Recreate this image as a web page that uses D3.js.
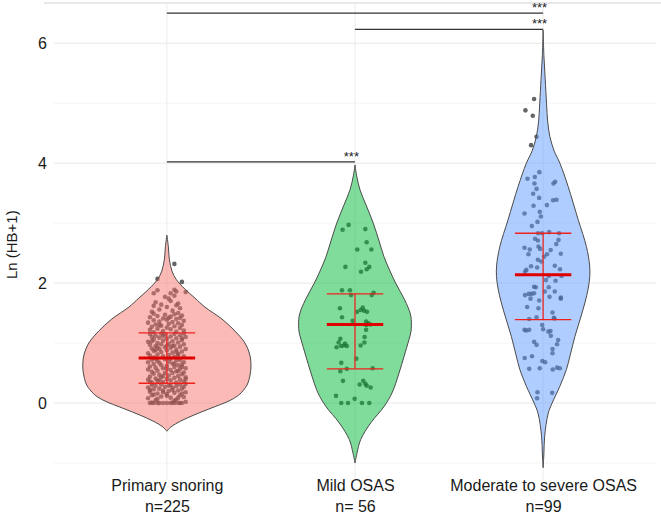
<!DOCTYPE html>
<html>
<head>
<meta charset="utf-8">
<script src="https://cdn.jsdelivr.net/npm/d3@7/dist/d3.min.js"></script>
<style>
  body { margin: 0; background: #fff; }
  svg { font-family: "Liberation Sans", Arial, sans-serif; }
</style>
</head>
<body>
<svg id="chart" width="661" height="516"></svg>
<script>
// groups
var groups = ["Primary snoring", "Mild OSAS", "Moderate to severe OSAS"];
var groupN = ["n=225", "n= 56", "n=99"];
var fills = ["#F8766D", "#00BA38", "#619CFF"];

// violin outlines: [value, half width in category units]
var violinPrimary = [[2.80,0],[2.6,0.008],[2.4,0.013],[2.2,0.027],[2.06,0.05],[1.9,0.096],[1.75,0.149],[1.6,0.202],[1.4,0.293],[1.2,0.362],[1.0,0.415],[0.8,0.441],[0.6,0.447],[0.45,0.441],[0.3,0.426],[0.15,0.388],[0.05,0.34],[-0.1,0.223],[-0.2,0.144],[-0.3,0.074],[-0.4,0.021],[-0.47,0]];
var violinMild = [[3.97,0],[3.8,0.008],[3.55,0.027],[3.3,0.059],[3.0,0.097],[2.7,0.128],[2.44,0.154],[2.2,0.186],[2.0,0.216],[1.72,0.264],[1.5,0.293],[1.39,0.299],[1.2,0.298],[1.06,0.287],[0.78,0.261],[0.5,0.234],[0.17,0.197],[-0.06,0.154],[-0.33,0.084],[-0.61,0.03],[-0.83,0.011],[-1.0,0]];
var violinSevere = [[6.22,0],[5.8,0.004],[5.4,0.011],[5.0,0.018],[4.7,0.024],[4.44,0.036],[4.2,0.059],[4.0,0.089],[3.61,0.133],[3.06,0.186],[2.61,0.23],[2.3,0.247],[2.11,0.248],[1.9,0.239],[1.67,0.222],[1.4,0.197],[1.11,0.169],[0.8,0.144],[0.56,0.124],[0.28,0.089],[0.0,0.048],[-0.17,0.027],[-0.56,0.008],[-0.85,0.004],[-1.08,0]];

// quartiles / median: [q1, median, q3]
var statsPrimary = [0.33, 0.75, 1.17];
var statsMild = [0.57, 1.31, 1.82];
var statsSevere = [1.39, 2.14, 2.83];

// jittered observations: [jitter offset in category units, value]
var pointsPrimary = [
[-0.09,0],[-0.07,0],[-0.05,0],[-0.02,0],[0.0,0],[0.02,0],[0.04,0],[0.06,0],[0.08,0],[-0.08,0.01],[0.03,0.01],[-0.04,0.0],[0.07,0.0],[0.1,0.02],
[-0.06,0.05],[0.05,0.06],[-0.1,0.08],[0.02,0.09],[0.09,0.1],[-0.03,0.11],[-0.08,0.13],[0.07,0.13],[0.0,0.15],[-0.05,0.16],[0.04,0.17],[0.1,0.18],[-0.09,0.19],[0.01,0.2],[-0.02,0.21],[0.06,0.21],[-0.07,0.23],[0.08,0.24],[-0.04,0.24],[0.03,0.25],[-0.1,0.26],[0.09,0.27],[-0.01,0.27],[0.05,0.28],[-0.06,0.29],[0.02,0.3],[-0.08,0.3],[0.07,0.31],[-0.03,0.31],[0.1,0.32],[0.0,0.12],[-0.05,0.07],[0.04,0.04],[0.08,0.16],[-0.09,0.22],[-0.02,0.18],[0.06,0.09],[0.01,0.29],[-0.07,0.14],[0.03,0.22],
[-0.08,0.34],[0.05,0.34],[-0.02,0.35],[0.09,0.36],[-0.05,0.37],[0.02,0.38],[-0.1,0.39],[0.07,0.39],[0.0,0.4],[-0.06,0.41],[0.04,0.42],[-0.03,0.43],[0.1,0.43],[-0.09,0.44],[0.06,0.45],[0.01,0.46],[-0.04,0.47],[0.08,0.48],[-0.07,0.49],[0.03,0.5],[-0.01,0.5],[0.09,0.51],[-0.08,0.52],[0.05,0.53],[-0.05,0.54],[0.02,0.55],[-0.1,0.56],[0.07,0.57],[-0.02,0.58],[0.1,0.58],[-0.06,0.59],[0.04,0.6],[-0.09,0.61],[0.0,0.62],[0.06,0.63],[-0.03,0.63],[0.08,0.64],[-0.07,0.65],[0.03,0.66],[-0.04,0.67],[0.09,0.68],[-0.1,0.68],[0.01,0.69],[-0.05,0.7],[0.05,0.71],[-0.08,0.72],[0.07,0.72],[-0.01,0.73],[0.02,0.74],[-0.06,0.74],[0.1,0.4],[-0.02,0.45],[0.06,0.53],[-0.09,0.36],[0.04,0.65],[0.0,0.57],[-0.04,0.38],[0.08,0.6],
[-0.07,0.76],[0.04,0.77],[-0.02,0.78],[0.09,0.78],[-0.09,0.79],[0.01,0.8],[-0.05,0.81],[0.06,0.82],[-0.1,0.83],[0.03,0.84],[-0.03,0.85],[0.08,0.86],[-0.07,0.87],[0.0,0.88],[0.05,0.89],[-0.04,0.9],[0.1,0.9],[-0.08,0.91],[0.02,0.92],[-0.01,0.93],[0.07,0.94],[-0.06,0.95],[0.04,0.96],[-0.09,0.97],[0.09,0.98],[-0.03,0.98],[0.01,0.99],[-0.05,1.0],[0.06,1.01],[-0.1,1.02],[0.03,1.03],[-0.02,1.04],[0.08,1.05],[-0.07,1.06],[0.0,1.07],[0.05,1.08],[-0.04,1.09],[0.1,1.1],[-0.08,1.1],[0.02,1.11],[-0.06,1.12],[0.07,1.13],[-0.01,1.14],[0.04,1.15],[-0.09,1.15],[0.09,1.16],[-0.03,1.16],[0.06,0.8],[-0.06,0.88],[0.03,0.95],[-0.08,1.03],[0.08,1.08],[0.0,0.96],[-0.02,1.12],[0.05,0.85],[-0.05,0.93],
[-0.07,1.18],[0.05,1.19],[-0.02,1.2],[0.09,1.21],[-0.09,1.22],[0.02,1.23],[-0.05,1.24],[0.07,1.25],[0.0,1.26],[-0.08,1.27],[0.04,1.28],[-0.03,1.29],[0.08,1.3],[-0.06,1.31],[0.01,1.32],[0.06,1.33],[-0.1,1.34],[0.03,1.35],[-0.04,1.36],[0.09,1.37],[-0.07,1.38],[0.0,1.39],[0.05,1.4],[-0.02,1.41],[0.07,1.42],[-0.09,1.43],[0.02,1.44],[-0.05,1.45],[0.08,1.46],[-0.01,1.47],[0.04,1.48],[-0.07,1.49],[0.06,1.5],[-0.04,1.3],[0.01,1.42],
[-0.08,1.52],[0.03,1.54],[-0.04,1.56],[0.07,1.58],[0.0,1.6],[-0.07,1.62],[0.05,1.63],[-0.03,1.64],[0.06,1.66],[-0.06,1.68],[0.02,1.7],[0.01,1.74],[-0.01,1.77],[0.04,1.79],[-0.07,1.83],[0.02,1.83],[0.05,1.86],[0.1,1.85],[-0.05,1.88],[0.04,1.89],[-0.05,2.07],[0.08,2.02],[0.04,2.32]
];
var pointsMild = [
[-0.066,2.89],[-0.034,2.97],[0.055,2.90],[0.062,2.68],[0.012,2.56],[0.087,2.56],[-0.051,2.27],[0.055,2.34],[0.062,2.23],[0.076,2.27],[0.032,2.19],
[-0.069,1.88],[-0.027,1.88],[-0.021,1.80],[0.099,1.84],[0.089,1.80],[-0.080,1.58],[-0.069,1.43],[0.011,1.52],[0.041,1.59],[0.048,1.54],[0.064,1.52],
[-0.012,1.37],[0.059,1.36],[0.071,1.33],[0.082,1.31],[0.059,1.22],[-0.078,1.07],[0.051,1.10],[-0.087,1.01],[-0.098,0.93],[-0.074,0.95],[-0.053,0.99],
[-0.043,0.95],[0.030,0.96],[0.050,1.01],[0.007,0.74],[-0.073,0.67],[-0.044,0.57],[-0.078,0.53],[0.094,0.58],[-0.064,0.37],[0.025,0.31],[0.044,0.37],
[0.055,0.32],[0.062,0.29],[0.083,0.26],[-0.101,0.12],[-0.073,0.00],[-0.037,0.00],[-0.002,0.07],[0.037,0.00],[0.076,0.00],[0.060,1.30],[-0.060,0.96],[0.030,1.55]
];
var pointsSevere = [
[-0.048,5.07],[-0.094,4.88],[-0.055,4.79],[-0.035,4.44],[-0.064,4.30],
[-0.083,3.74],[-0.044,3.77],[-0.020,3.85],[-0.046,3.66],[-0.035,3.57],[-0.053,3.49],[-0.021,3.42],[0.055,3.66],[0.064,3.69],[0.053,3.38],[0.071,3.39],
[-0.051,3.29],[-0.018,3.19],[-0.012,3.11],[-0.099,3.16],[-0.030,3.02],[-0.027,2.83],[-0.005,2.83],[0.032,2.85],[0.085,2.83],[-0.043,2.74],[-0.028,2.71],
[0.082,2.72],[-0.099,2.59],[-0.071,2.56],[-0.025,2.61],[-0.016,2.57],[-0.078,2.48],[0.005,2.44],[0.021,2.48],[0.094,2.49],[-0.028,2.39],[-0.064,2.28],
[-0.032,2.26],[-0.089,2.22],[0.062,2.29],[0.090,2.23],[-0.096,2.19],[0.030,2.12],[0.098,2.12],[-0.048,1.94],[-0.039,1.93],[0.030,1.93],[0.066,2.04],
[-0.096,1.80],[-0.076,1.82],[-0.062,1.82],[-0.048,1.83],[-0.067,1.74],[0.009,1.86],[0.034,1.77],[0.062,1.86],[0.094,1.76],[0.094,1.74],[-0.021,1.71],
[-0.025,1.58],[0.050,1.51],[-0.035,1.43],[-0.074,1.40],[0.057,1.42],[0.060,1.41],[-0.099,1.22],[-0.090,1.21],[-0.074,1.22],[0.000,1.23],[0.028,1.19],
[0.039,1.20],[0.041,1.12],[-0.048,1.02],[-0.035,0.97],[0.074,0.98],[0.050,0.90],[0.050,0.83],[-0.098,0.75],[-0.059,0.78],[-0.004,0.70],[0.011,0.68],
[-0.074,0.57],[-0.018,0.58],[0.051,0.56],[0.074,0.59],[0.089,0.58],[-0.030,0.18],[-0.032,0.08],[0.048,0.17],
[0.015,2.05],[-0.010,2.36],[0.070,2.65],[-0.060,2.95],[0.020,3.30],[-0.085,1.60],[0.080,1.05],[-0.005,1.30],[0.040,2.55]
];

// significance brackets: [from group, to group, height, label]
var brackets = [[1, 3, 6.50, "***"], [2, 3, 6.23, "***"], [1, 2, 4.02, "***"]];

var violins = [violinPrimary, violinMild, violinSevere];
var stats = [statsPrimary, statsMild, statsSevere];
var points = [pointsPrimary, pointsMild, pointsSevere];

var svg = d3.select("#chart");
var margin = { left: 54, right: 5, top: 3, bottom: 44 };
var W = 661, H = 516;

var x = d3.scaleLinear().domain([0.4, 3.6]).range([margin.left, W - margin.right]);
var y = d3.scaleLinear().domain([-1.15, 6.67]).range([H - margin.bottom, margin.top]);

// grid
var grid = svg.append("g");
grid.selectAll(".minor").data([-1, 1, 3, 5]).enter().append("line")
    .attr("x1", x.range()[0]).attr("x2", x.range()[1])
    .attr("y1", function(d) { return y(d); }).attr("y2", function(d) { return y(d); })
    .attr("stroke", "#f1f1f1").attr("stroke-width", 0.8);
grid.selectAll(".major").data([0, 2, 4, 6]).enter().append("line")
    .attr("x1", x.range()[0]).attr("x2", x.range()[1])
    .attr("y1", function(d) { return y(d); }).attr("y2", function(d) { return y(d); })
    .attr("stroke", "#e8e8e8").attr("stroke-width", 1);
grid.selectAll(".vmajor").data([1, 2, 3]).enter().append("line")
    .attr("x1", function(d) { return x(d); }).attr("x2", function(d) { return x(d); })
    .attr("y1", y.range()[1]).attr("y2", y.range()[0] + 8)
    .attr("stroke", "#ebebeb").attr("stroke-width", 1);
grid.append("line")
    .attr("x1", x.range()[0] - 10).attr("x2", W)
    .attr("y1", y.range()[1]).attr("y2", y.range()[1])
    .attr("stroke", "#e0e0e0").attr("stroke-width", 1.5);

// jittered points (drawn under the semi-transparent violins)
points.forEach(function(p, i) {
    var c = i + 1;
    svg.append("g").selectAll("circle").data(p).enter().append("circle")
        .attr("cx", function(d) { return x(c + d[0]); })
        .attr("cy", function(d) { return y(d[1]); })
        .attr("r", 2.3)
        .attr("fill", "#2a2a2a")
        .attr("fill-opacity", 0.72);
});

// violins
var area = d3.area()
    .curve(d3.curveCatmullRom)
    .y(function(d) { return y(d[0]); });

violins.forEach(function(v, i) {
    var c = i + 1;
    area.x0(function(d) { return x(c - d[1]); })
        .x1(function(d) { return x(c + d[1]); });
    svg.append("path")
        .datum(v)
        .attr("d", area)
        .attr("fill", fills[i])
        .attr("fill-opacity", 0.5)
        .attr("stroke", "#4a4a4a")
        .attr("stroke-width", 1);
});

// quartile + median bars
stats.forEach(function(s, i) {
    var c = i + 1;
    var g = svg.append("g");
    g.append("line")
        .attr("x1", x(c)).attr("x2", x(c))
        .attr("y1", y(s[0])).attr("y2", y(s[2]))
        .attr("stroke", "#e8322f").attr("stroke-width", 1.4);
    [s[0], s[2]].forEach(function(q) {
        g.append("line")
            .attr("x1", x(c - 0.15)).attr("x2", x(c + 0.15))
            .attr("y1", y(q)).attr("y2", y(q))
            .attr("stroke", "#f0201c").attr("stroke-width", 1.4);
    });
    g.append("line")
        .attr("x1", x(c - 0.15)).attr("x2", x(c + 0.15))
        .attr("y1", y(s[1])).attr("y2", y(s[1]))
        .attr("stroke", "#e00000").attr("stroke-width", 3);
});

// significance brackets
brackets.forEach(function(b) {
    svg.append("line")
        .attr("x1", x(b[0])).attr("x2", x(b[1]))
        .attr("y1", y(b[2])).attr("y2", y(b[2]))
        .attr("stroke", "#333").attr("stroke-width", 1.3);
    svg.append("text")
        .attr("x", x(b[1]) + 4)
        .attr("y", y(b[2]) - 1)
        .attr("text-anchor", "end")
        .attr("font-size", 13)
        .attr("fill", "#222")
        .text(b[3]);
});

// axes
var yAxis = svg.append("g")
    .attr("transform", "translate(" + (margin.left - 4) + ",0)")
    .call(d3.axisLeft(y).tickValues([0, 2, 4, 6]).tickSize(0).tickFormat(d3.format("d")));
yAxis.select(".domain").remove();
yAxis.selectAll("text").attr("font-size", 16).attr("fill", "#1a1a1a")
    .attr("font-family", "Liberation Sans, Arial, sans-serif");

var xAxis = svg.append("g")
    .attr("transform", "translate(0," + (H - margin.bottom) + ")")
    .call(d3.axisBottom(x).tickValues([1, 2, 3]).tickSize(0).tickFormat(""));
xAxis.select(".domain").remove();
xAxis.selectAll(".tick").each(function(d, i) {
    var t = d3.select(this).append("text")
        .attr("text-anchor", "middle")
        .attr("font-size", 16)
        .attr("fill", "#1a1a1a")
        .attr("font-family", "Liberation Sans, Arial, sans-serif");
    t.append("tspan").attr("x", 0).attr("y", 19).text(groups[i]);
    t.append("tspan").attr("x", 0).attr("y", 40).text(groupN[i]);
});

svg.append("text")
    .attr("transform", "translate(17," + y(2.64) + ") rotate(-90)")
    .attr("text-anchor", "middle")
    .attr("font-size", 15)
    .attr("fill", "#1a1a1a")
    .text("Ln (HB+1)");
</script>
</body>
</html>
